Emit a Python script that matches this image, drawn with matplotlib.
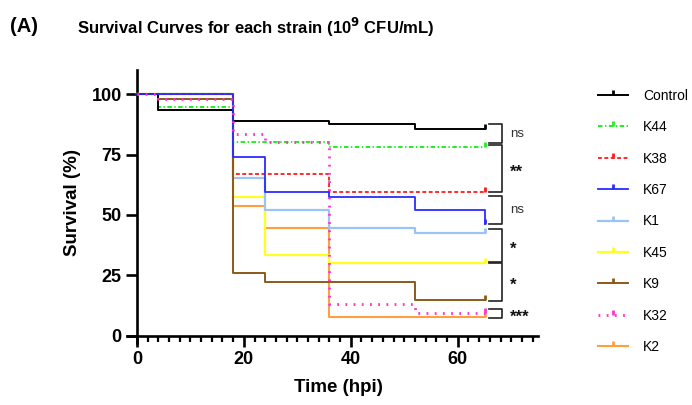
import matplotlib
matplotlib.use("Agg")
import matplotlib.pyplot as plt
from matplotlib.path import Path
from matplotlib.lines import Line2D
from matplotlib import font_manager

plt.rcParams['font.family'] = ['Liberation Sans', 'DejaVu Sans']
plt.rcParams['lines.scale_dashes'] = False

names = {f.name for f in font_manager.fontManager.ttflist}
title_family = ['Liberation Sans Narrow', 'Liberation Sans'] if 'Liberation Sans Narrow' in names else ['Liberation Sans']
narrow = 'Liberation Sans Narrow' in names

# ---- data ----
strains = ["Control", "K44", "K38", "K67", "K1", "K45", "K9", "K32", "K2"]
t_control = [0, 4, 18, 36, 52, 65]
s_control = [100, 93.3, 88.9, 87.8, 85.6, 85.6]
t_k44 = [0, 4, 18, 36, 65]
s_k44 = [100, 94.8, 80.0, 78.0, 78.0]
t_k38 = [0, 18, 36, 65]
s_k38 = [100, 66.8, 59.3, 59.3]
t_k67 = [0, 18, 24, 36, 52, 65]
s_k67 = [100, 74.1, 59.3, 57.4, 51.9, 46.3]
t_k1 = [0, 18, 24, 36, 52, 65]
s_k1 = [100, 65.1, 52.0, 44.4, 42.6, 42.6]
t_k45 = [0, 18, 24, 36, 65]
s_k45 = [100, 57.5, 33.4, 29.9, 29.9]
t_k9 = [0, 4, 18, 24, 52, 65]
s_k9 = [100, 98.2, 26.1, 22.3, 14.8, 14.8]
t_k32 = [0, 4, 18, 24, 36, 52, 65]
s_k32 = [100, 98.2, 83.7, 80.0, 13.0, 9.3, 9.3]
t_k2 = [0, 18, 24, 36, 65]
s_k2 = [100, 53.7, 44.4, 7.6, 7.6]

# significance brackets: (top, bottom, label)
br_top = [87.6, 78.9, 57.8, 44.0, 30.2, 10.9]
br_bot = [79.6, 59.6, 46.2, 30.6, 14.5, 7.4]
br_lab = ["ns", "**", "ns", "*", "*", "***"]

series = {
    "Control": (t_control, s_control),
    "K44": (t_k44, s_k44),
    "K38": (t_k38, s_k38),
    "K67": (t_k67, s_k67),
    "K1": (t_k1, s_k1),
    "K45": (t_k45, s_k45),
    "K9": (t_k9, s_k9),
    "K32": (t_k32, s_k32),
    "K2": (t_k2, s_k2),
}
styles = {
    "Control": dict(color="#000000", ls="-", lw=1.4),
    "K44": dict(color="#22ee22", ls=(0, (3.2, 1.8, 1.0, 1.8)), lw=1.4),
    "K38": dict(color="#ff1a1a", ls=(0, (2.8, 1.8)), lw=1.3),
    "K67": dict(color="#2b2bff", ls="-", lw=1.3),
    "K1": dict(color="#99c4f5", ls="-", lw=1.6),
    "K45": dict(color="#ffff22", ls="-", lw=1.6),
    "K9": dict(color="#8b5a1a", ls="-", lw=1.4),
    "K32": dict(color="#ff33cc", ls=(0, (1.3, 4.6)), lw=2.0),
    "K2": dict(color="#ffa040", ls="-", lw=1.5),
}
draw_order = ["K2", "K45", "K1", "K38", "K9", "K44", "Control", "K67", "K32"]

censor = Path([(0, 0), (0, 1)], [Path.MOVETO, Path.LINETO])

fig = plt.figure(figsize=(6.92, 4.05), dpi=100)
ax = fig.add_axes([126.7 / 692, 1 - 342.7 / 405, (538 - 126.7) / 692, (342.7 - 70) / 405])

for z, name in enumerate(draw_order):
    t, s = series[name]
    st = styles[name]
    ax.step(t, s, where="post", color=st["color"], linestyle=st["ls"], lw=st["lw"], zorder=2 + z)
    ax.plot([t[-1]], [s[-1]], linestyle="none", marker=censor, markersize=7,
            markeredgewidth=2.0, color=st["color"], zorder=2 + z)

ax.set_xlim(-1.9, 75)
ax.set_ylim(-2.9, 110)
ax.spines["left"].set_position(("data", 0))
ax.spines["bottom"].set_position(("data", 0))
ax.spines["right"].set_visible(False)
ax.spines["top"].set_visible(False)
for sp in ("left", "bottom"):
    ax.spines[sp].set_linewidth(1.9)

ax.set_xticks([0, 20, 40, 60])
ax.set_xticks(list(range(0, 76, 2)), minor=True)
ax.set_yticks([0, 25, 50, 75, 100])
ax.tick_params(axis="both", which="major", length=7.9, width=1.9, labelsize=13, pad=3)
ax.tick_params(axis="x", which="minor", length=4.3, width=1.6)
ax.tick_params(axis="y", which="minor", left=False)
for lab in ax.get_xticklabels() + ax.get_yticklabels():
    lab.set_fontweight("bold")

fig.text(338 / 692, 1 - 388 / 405, "Time (hpi)", ha="center", va="center",
         fontsize=13.5, fontweight="bold")
fig.text(72.7 / 692, 1 - 203 / 405, "Survival (%)", ha="center", va="center",
         rotation=90, fontsize=13.5, fontweight="bold")

fig.text(10 / 692, 1 - 27 / 405, "(A)", ha="left", va="center",
         fontsize=17 if narrow else 14.5, fontweight="bold", family=title_family)
fig.text(77 / 692, 1 - 27 / 405, r"Survival Curves for each strain (10$^{\mathbf{9}}$ CFU/mL)",
         ha="left", va="center", fontsize=14.5 if narrow else 12, fontweight="bold",
         family=title_family)

# brackets
bx0, bx1, tx = 65.8, 68.3, 69.8
for top, bot, lab in zip(br_top, br_bot, br_lab):
    ax.plot([bx0, bx1, bx1, bx0], [top, top, bot, bot], color="#222222", lw=1.2,
            clip_on=False, zorder=20)
    if lab == "ns":
        ax.text(tx, (top + bot) / 2, lab, ha="left", va="center", fontsize=9.5,
                color="#333333", clip_on=False)
    else:
        ax.text(tx, (top + bot) / 2 - 1.6, lab, ha="left", va="center", fontsize=12,
                fontweight="bold", color="#111111", clip_on=False)

# legend
handles = []
for name in strains:
    st = styles[name]
    handles.append(Line2D([0], [0], color=st["color"], linestyle=st["ls"], lw=st["lw"],
                          marker=censor, markersize=7, markeredgewidth=2.0))
fig.legend(handles, strains, loc="upper left", bbox_to_anchor=(598 / 692, 1 - 89 / 405),
           frameon=False, fontsize=10, handlelength=2.15, handletextpad=1.1,
           labelspacing=1.25, borderpad=0, borderaxespad=0, numpoints=1)

fig.savefig("out.png", dpi=100)
